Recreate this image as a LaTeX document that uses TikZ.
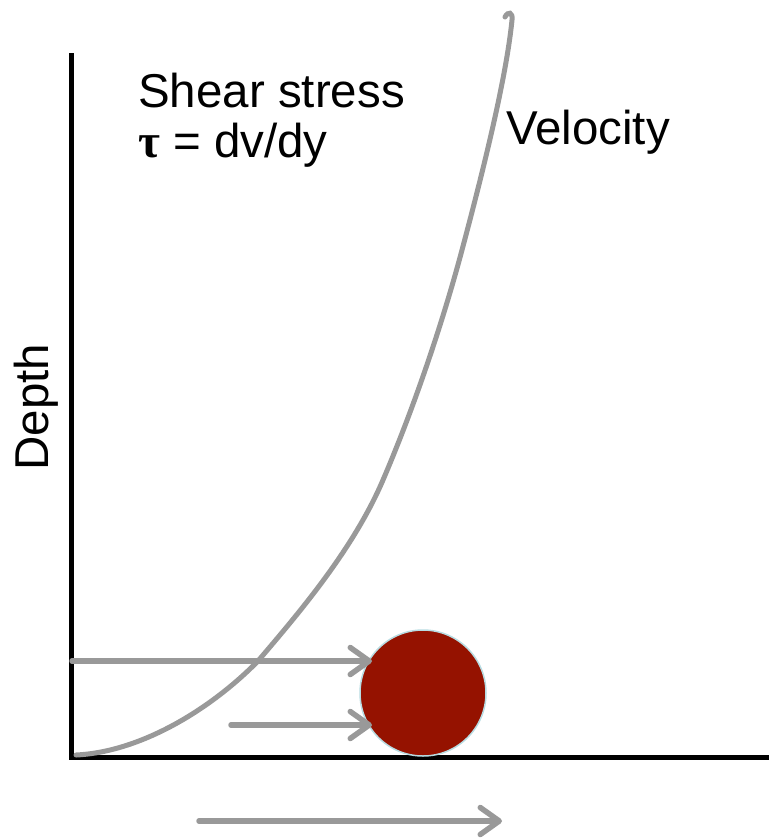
\documentclass[tikz,border=0pt]{standalone}
\usepackage{fontspec}
\setmainfont{Liberation Sans}
\newfontfamily\taufont{Liberation Serif}
\usetikzlibrary{arrows.meta}
\definecolor{arrgray}{HTML}{999999}
\definecolor{ballred}{HTML}{951200}
\definecolor{ballrim}{HTML}{B8DCE2}
\tikzset{
  axisline/.style={line width=5pt, black},
  flowarrow/.style={line width=5.5pt, arrgray, line cap=round,
     -{Straight Barb[length=19pt,width=27pt,line cap=round,line join=round]}},
  curveline/.style={line width=5pt, arrgray, line cap=round},
  label/.style={inner sep=0pt, font=\fontsize{47.5}{56}\selectfont},
}
\begin{document}
\begin{tikzpicture}[x=1pt,y=-1pt]
\useasboundingbox (0,0) rectangle (769,838);
% axes
\coordinate (ytop) at (71,53);
\coordinate (origin) at (71,757);
\coordinate (xend) at (769,757);
\draw[axisline] (ytop) -- (origin) -- (xend);
% velocity curve
\coordinate (c0) at (76,755);
\coordinate (c1) at (258,661);
\coordinate (c2) at (383,480);
\coordinate (c3) at (462,250);
\coordinate (c4) at (512,20);
\coordinate (c5) at (505,17);
\draw[curveline] (c0) .. controls (140,752) and (210,710) .. (c1)
  .. controls (298,614) and (353,550) .. (c2)
  .. controls (413,410) and (442,325) .. (c3)
  .. controls (482,175) and (506,80) .. (c4)
  .. controls (513,12) and (508,11) .. (c5);
% ball
\node[circle, minimum size=126pt, inner sep=0pt, fill=ballred, draw=ballrim, line width=1.5pt] (ball) at (423,693) {};
% arrows
\coordinate (a1s) at (72,661);
\coordinate (a1e) at (372,661);
\coordinate (a2s) at (231,725);
\coordinate (a2e) at (372,725);
\coordinate (a3s) at (199,821);
\coordinate (a3e) at (502,821);
\draw[flowarrow] (a1s) -- (a1e);
\draw[flowarrow] (a2s) -- (a2e);
\draw[flowarrow] (a3s) -- (a3e);
% labels
\node[label, anchor=base west] (shear) at (138,107) {Shear stress};
\node[label, anchor=base west] (tau) at (138,157) {{\taufont\bfseries τ} = dv/dy};
\node[label, anchor=base west] (vel) at (506,144) {Velocity};
\node[label, anchor=base, rotate=90] (depth) at (48,407) {Depth};
\end{tikzpicture}
\end{document}
